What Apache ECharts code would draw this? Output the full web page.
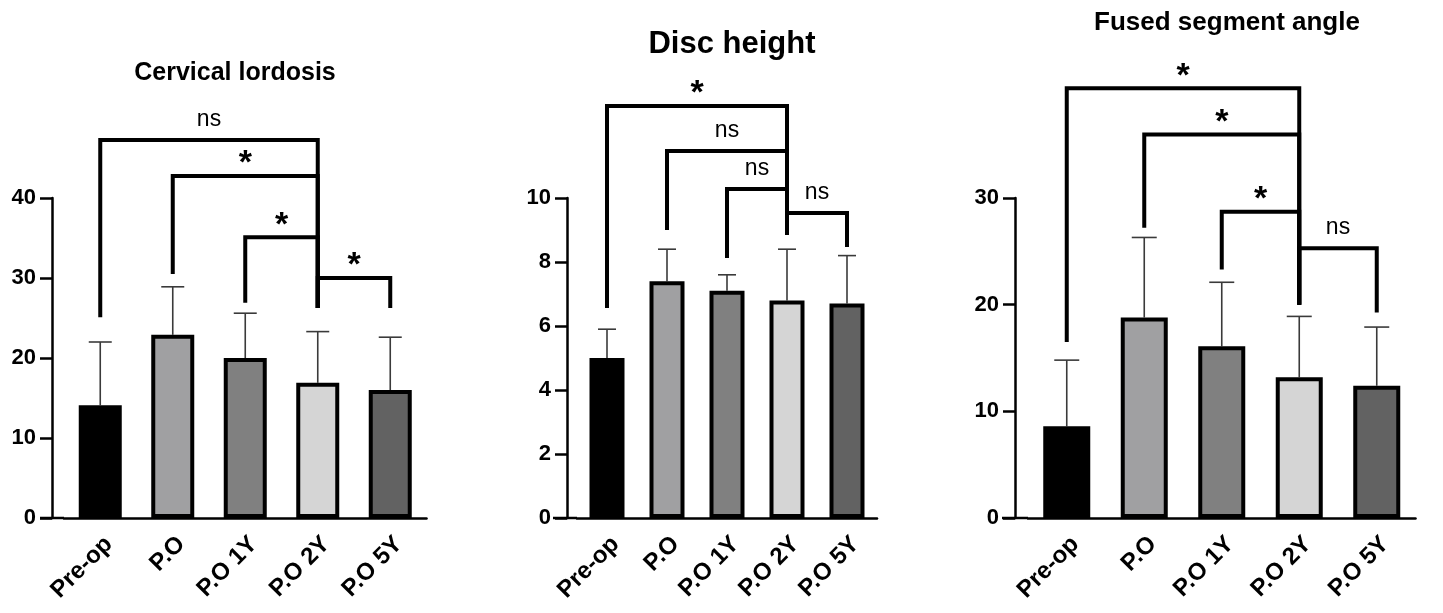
<!DOCTYPE html>
<html>
<head>
<meta charset="utf-8">
<title>Cervical lordosis / Disc height / Fused segment angle</title>
<script src="https://cdn.jsdelivr.net/npm/echarts@6/dist/echarts.min.js"></script>
<style>
    html, body { margin: 0; padding: 0; background: #fff; }
    #echarts { width: 1443px; height: 613px; }
</style>
</head>
<body>
<div id="echarts"></div>
<script>
var categories = ['Pre-op', 'P.O', 'P.O 1Y', 'P.O 2Y', 'P.O 5Y'];
var barColors = ['#000000', '#a0a0a2', '#808080', '#d5d5d5', '#626262'];

// mean and SD
var lordosisMean = [14.1, 22.9, 20.0, 16.9, 16.0];
var lordosisSD = [7.9, 6.0, 5.6, 6.4, 6.6];
var discMean = [5.0, 7.4, 7.1, 6.8, 6.7];
var discSD = [0.9, 1.0, 0.5, 1.6, 1.5];
var angleMean = [8.6, 18.8, 16.1, 13.2, 12.4];
var angleSD = [6.2, 7.5, 6.0, 5.7, 5.5];

// brackets: [from, to, level, left foot, right foot]
var lordosisBrackets = [[0, 3, 47.25, 25.1, 26.25], [1, 3, 42.75, 30.5, 26.25], [2, 3, 35.1, 26.9, 26.25], [3, 4, 30.0, 26.25, 26.25]];
var lordosisLabels = ['ns', '*', '*', '*'];
var discBrackets = [[0, 3, 12.875, 6.56, 8.84], [1, 3, 11.47, 9.0, 8.84], [2, 3, 10.28, 8.125, 8.84], [3, 4, 9.53, 8.84, 8.47]];
var discLabels = ['*', 'ns', 'ns', 'ns'];
var angleBrackets = [[0, 3, 40.3, 16.5, 20.0], [1, 3, 35.95, 27.2, 20.0], [2, 3, 28.7, 23.3, 20.0], [3, 4, 25.3, 20.0, 19.26]];
var angleLabels = ['*', '*', '*', 'ns'];

var FONT = '"Liberation Sans", Arial, Helvetica, sans-serif';

// panel layout
var panels = [
    {title: 'Cervical lordosis', titleX: 230, titleTop: 56, titleSize: 25, left: 64, width: 362.5, yOffset: 12, max: 40, interval: 10, barWidth: 43, cap: 23, lineFrom: 40,
        mean: lordosisMean, sd: lordosisSD, brackets: lordosisBrackets, labels: lordosisLabels},
    {title: 'Disc height', titleX: 727, titleTop: 24, titleSize: 31, left: 577, width: 300, yOffset: 10, max: 10, interval: 2, barWidth: 35, cap: 18, lineFrom: 553,
        mean: discMean, sd: discSD, brackets: discBrackets, labels: discLabels},
    {title: 'Fused segment angle', titleX: 1222, titleTop: 5, titleSize: 26, left: 1028, width: 387.5, yOffset: 13, max: 30, interval: 10, barWidth: 47, cap: 25, lineFrom: 1002,
        mean: angleMean, sd: angleSD, brackets: angleBrackets, labels: angleLabels}
];

function errorItem(cap) {
    return function (params, api) {
        var idx = api.value(0);
        var p0 = api.coord([idx, api.value(1)]);
        var p1 = api.coord([idx, api.value(1) + api.value(2)]);
        return {
            type: 'group',
            children: [{
                type: 'line',
                shape: {x1: p0[0], y1: p0[1], x2: p1[0], y2: p1[1]},
                style: {stroke: '#3a3a3a', lineWidth: 1.6}
            }, {
                type: 'line',
                shape: {x1: p1[0] - cap / 2, y1: p1[1], x2: p1[0] + cap / 2, y2: p1[1]},
                style: {stroke: '#3a3a3a', lineWidth: 1.6}
            }]
        };
    };
}

function bracketItem(labels) {
    return function (params, api) {
        var a = api.value(0), b = api.value(1);
        var tl = api.coord([a, api.value(2)]);
        var tr = api.coord([b, api.value(2)]);
        var lf = api.coord([a, api.value(3)]);
        var rf = api.coord([b, api.value(4)]);
        var lab = labels[params.dataIndex];
        var star = lab === '*';
        return {
            type: 'group',
            children: [{
                type: 'polyline',
                shape: {points: [[lf[0], lf[1]], [tl[0], tl[1]], [tr[0], tr[1]], [rf[0], rf[1]]]},
                style: {stroke: '#000', lineWidth: 4, fill: null}
            }, {
                type: 'text',
                style: {
                    text: lab,
                    x: (tl[0] + tr[0]) / 2,
                    y: tl[1] - (star ? 12 : 20),
                    align: 'center',
                    verticalAlign: 'middle',
                    fontSize: star ? 34 : 23,
                    fontWeight: star ? 'bold' : 'normal',
                    fontFamily: FONT,
                    fill: '#000'
                }
            }]
        };
    };
}

var option = {
    backgroundColor: '#fff',
    animation: false,
    title: [],
    grid: [],
    xAxis: [],
    yAxis: [],
    series: [],
    graphic: []
};

panels.forEach(function (p, i) {
    option.title.push({
        text: p.title,
        left: p.titleX,
        top: p.titleTop,
        textAlign: 'center',
        textStyle: {fontFamily: FONT, fontWeight: 'bold', fontSize: p.titleSize, color: '#000'}
    });
    option.grid.push({left: p.left, width: p.width, top: 198, height: 320});
    option.xAxis.push({
        type: 'category',
        gridIndex: i,
        data: categories,
        axisLine: {lineStyle: {color: '#000', width: 2.5}},
        axisTick: {alignWithLabel: true, length: 11, lineStyle: {color: '#000', width: 2.5}},
        axisLabel: {rotate: 45, margin: 14, verticalAlign: 'top', color: '#000', fontFamily: FONT, fontWeight: 'bold', fontSize: 24, interval: 0}
    });
    option.yAxis.push({
        type: 'value',
        gridIndex: i,
        min: 0,
        max: p.max,
        interval: p.interval,
        offset: p.yOffset,
        splitLine: {show: false},
        axisLine: {show: true, lineStyle: {color: '#000', width: 2.5}},
        axisTick: {show: true, length: 12, lineStyle: {color: '#000', width: 2.5}},
        axisLabel: {margin: 16, color: '#000', fontFamily: FONT, fontWeight: 'bold', fontSize: 22}
    });
    option.series.push({
        type: 'bar',
        xAxisIndex: i,
        yAxisIndex: i,
        barWidth: p.barWidth,
        z: 3,
        data: p.mean.map(function (v, k) {
            return {value: v, itemStyle: {color: barColors[k], borderColor: '#000', borderWidth: 4}};
        })
    });
    option.series.push({
        type: 'custom',
        xAxisIndex: i,
        yAxisIndex: i,
        z: 2,
        renderItem: errorItem(p.cap),
        encode: {x: 0, y: 1},
        data: p.mean.map(function (v, k) { return [k, v, p.sd[k]]; })
    });
    option.series.push({
        type: 'custom',
        xAxisIndex: i,
        yAxisIndex: i,
        clip: false,
        z: 4,
        renderItem: bracketItem(p.labels),
        encode: {x: [0, 1], y: [2, 3, 4]},
        data: p.brackets
    });
    // x axis line runs under the y axis tick in the original
    option.graphic.push({
        type: 'line',
        shape: {x1: p.lineFrom, y1: 518, x2: p.left, y2: 518},
        style: {stroke: '#000', lineWidth: 2.5}
    });
});

var myChart = echarts.init(document.getElementById('echarts'));
myChart.setOption(option);
</script>
</body>
</html>
